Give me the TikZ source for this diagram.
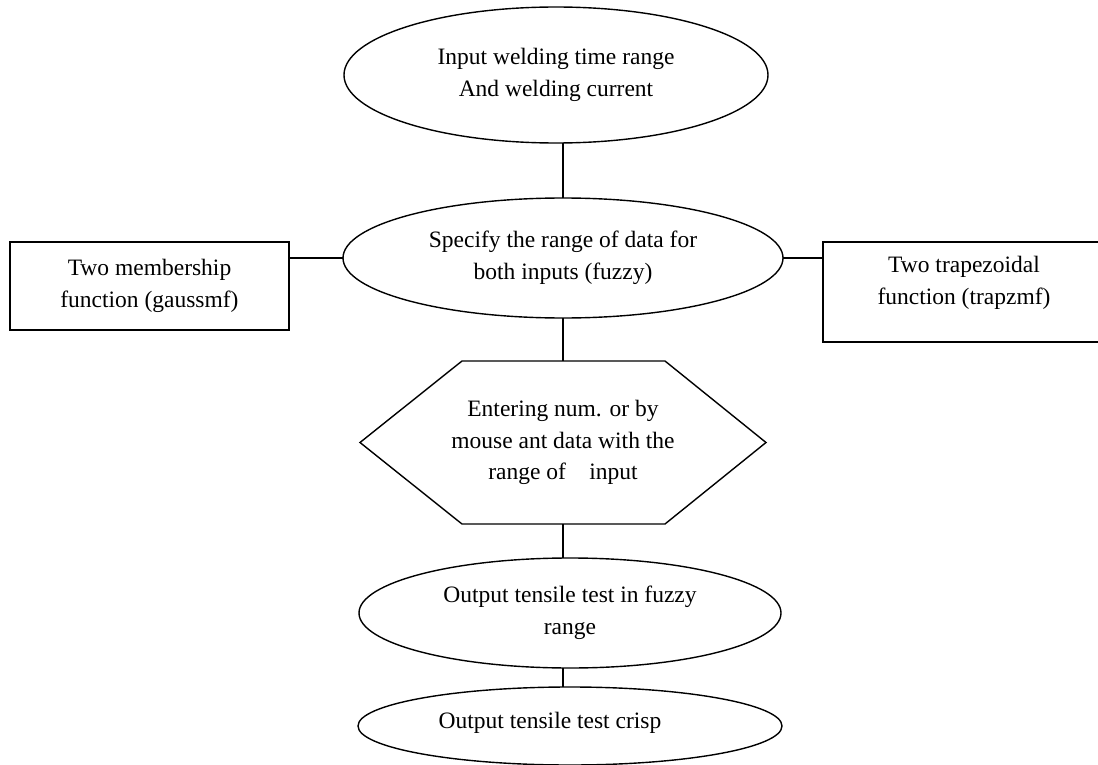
\documentclass[tikz,border=0pt]{standalone}
\usepackage{fontspec}
\setmainfont{Liberation Serif}
\usetikzlibrary{shapes.geometric,calc}
\begin{document}
\begin{tikzpicture}[x=1pt,y=-1pt,
  every node/.style={font=\fontsize{23.5}{31.5}\selectfont, align=center, inner sep=0pt, outer sep=0pt},
  ell/.style={draw, ellipse, line width=1.4pt},
  box/.style={draw, rectangle, line width=1.4pt},
  conn/.style={line width=1.4pt}]
\useasboundingbox (0,0) rectangle (1098,765);
\fill[white] (0,0) rectangle (1098,765);

\node[ell, minimum width=424pt, minimum height=136pt] (e1) at (556,75) {Input welding time range\\And welding current};
\node[ell, minimum width=440pt, minimum height=120pt] (e2) at (563,258) {Specify the range of data for\\both inputs (fuzzy)};
\node[box, minimum width=279pt, minimum height=88pt] (lb) at (149.5,286) {Two membership\\function (gaussmf)};
\node[box, minimum width=290pt, minimum height=100pt] (rb) at (968,292) {};
\node (rbt) at (964,283) {Two trapezoidal\\function (trapzmf)};

\node[minimum width=406pt, minimum height=163pt] (hex) at (563,442.5) {Entering num. or by\\mouse ant data with the\\range of\quad input};
\draw[conn] (hex.west) -- ($(hex.north west)+(102,0)$) -- ($(hex.north east)+(-101,0)$) -- (hex.east)
  -- ($(hex.south east)+(-101,0)$) -- ($(hex.south west)+(102,0)$) -- cycle;

\node[ell, minimum width=422pt, minimum height=110pt] (e3) at (570,613) {Output tensile test in fuzzy\\range};
\node[ell, minimum width=424pt, minimum height=78pt] (e4) at (570,726) {};
\node (e4t) at (550,723) {Output tensile test crisp};

\draw[conn] (e1.south -| e2.center) -- (e2.north);
\draw[conn] (e2.south) -- (hex.north);
\draw[conn] (lb.east |- e2.west) -- (e2.west);
\draw[conn] (e2.east) -- (e2.east -| rb.west);
\draw[conn] (hex.south) -- (hex.south |- e3.north);
\draw[conn] (e3.south -| hex.south) -- (e4.north -| hex.south);
\end{tikzpicture}
\end{document}
